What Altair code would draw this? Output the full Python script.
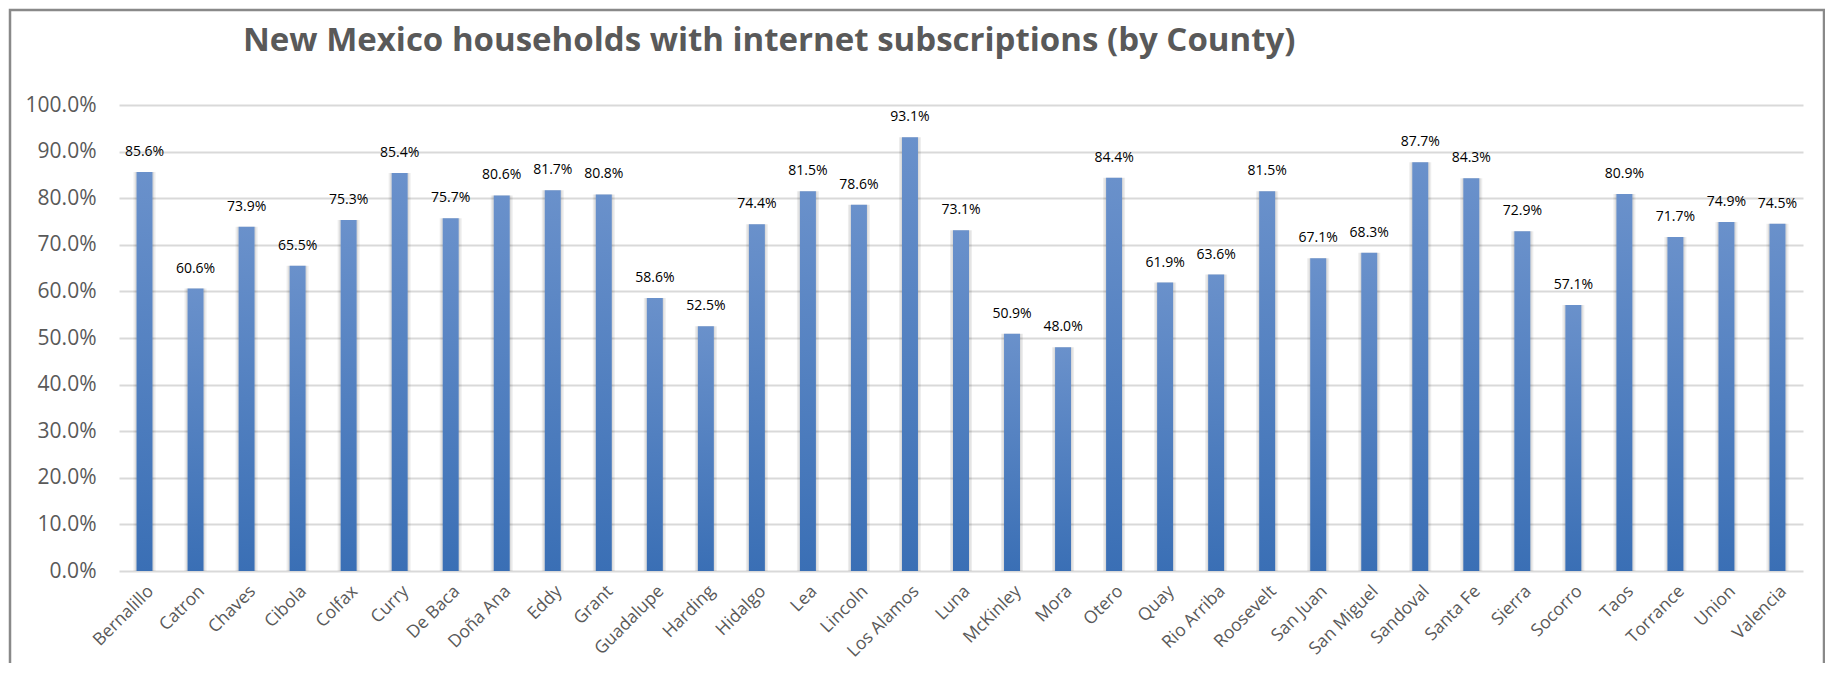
import altair as alt
import pandas as pd

counties = ["Bernalillo", "Catron", "Chaves", "Cibola", "Colfax", "Curry", "De Baca",
            "Doña Ana", "Eddy", "Grant", "Guadalupe", "Harding", "Hidalgo", "Lea",
            "Lincoln", "Los Alamos", "Luna", "McKinley", "Mora", "Otero", "Quay",
            "Rio Arriba", "Roosevelt", "San Juan", "San Miguel", "Sandoval", "Santa Fe",
            "Sierra", "Socorro", "Taos", "Torrance", "Union", "Valencia"]
values = [85.6, 60.6, 73.9, 65.5, 75.3, 85.4, 75.7, 80.6, 81.7, 80.8, 58.6, 52.5,
          74.4, 81.5, 78.6, 93.1, 73.1, 50.9, 48.0, 84.4, 61.9, 63.6, 81.5, 67.1,
          68.3, 87.7, 84.3, 72.9, 57.1, 80.9, 71.7, 74.9, 74.5]
y_ticks = [0.0, 0.1, 0.2, 0.3, 0.4, 0.5, 0.6, 0.7, 0.8, 0.9, 1.0]
title_text = "New Mexico households with internet subscriptions (by County)"

df = pd.DataFrame({"county": counties, "share": [v / 100 for v in values]})

FONT = "Open Sans"
GRAY = "#595959"

x_enc = alt.X("county:N", sort=counties, title=None,
              scale=alt.Scale(paddingInner=0.686, paddingOuter=0.343),
              axis=alt.Axis(labelAngle=-45, labelFontSize=17.5, labelColor=GRAY,
                            labelFont=FONT, ticks=False, domain=False, grid=False,
                            labelPadding=11, labelOverlap=False))
y_enc = alt.Y("share:Q", title=None,
              scale=alt.Scale(domain=[0, 1], nice=False),
              axis=alt.Axis(values=y_ticks, format=".1%", labelFontSize=21,
                            labelColor=GRAY, labelFont=FONT, ticks=False,
                            domain=False, grid=True, gridColor="#D9D9D9",
                            gridWidth=2, labelPadding=23))

base = alt.Chart(df)

shadow = base.mark_bar(size=22, color="#000000", opacity=0.07).encode(x=x_enc, y=y_enc)
shadow2 = base.mark_bar(size=19, color="#000000", opacity=0.07).encode(x=x_enc, y=y_enc)

bars = base.mark_bar(
    size=16,
    color=alt.Gradient(
        gradient="linear",
        stops=[alt.GradientStop(color="#6A91CB", offset=0),
               alt.GradientStop(color="#3A6FB5", offset=1)],
        x1=0, x2=0, y1=0, y2=1,
    ),
).encode(x=x_enc, y=y_enc)

labels = base.mark_text(fontSize=14, font=FONT, color="#000000", dy=-16,
                        baseline="alphabetic").encode(
    x=x_enc, y=y_enc, text=alt.Text("share:Q", format=".1%"))

one = pd.DataFrame({"t": [title_text]})

frame = alt.Chart(one).mark_rect(
    fill=None, stroke="#898989", strokeWidth=2.5
).encode(x=alt.value(-109), x2=alt.value(1705), y=alt.value(-95), y2=alt.value(620))

title = alt.Chart(one).mark_text(
    fontSize=33, font=FONT, fontWeight="bold", color=GRAY, align="left",
    baseline="alphabetic"
).encode(x=alt.value(124), y=alt.value(-54), text="t:N")

chart = alt.layer(frame, shadow, shadow2, bars, labels, title).properties(
    width=1684, height=466,
    autosize=alt.AutoSizeParams(type="none"),
    padding={"left": 111, "top": 97, "right": 22, "bottom": 92},
).configure_view(stroke=None)

chart.save("out.html", embed_options={"renderer": "svg", "actions": False})
